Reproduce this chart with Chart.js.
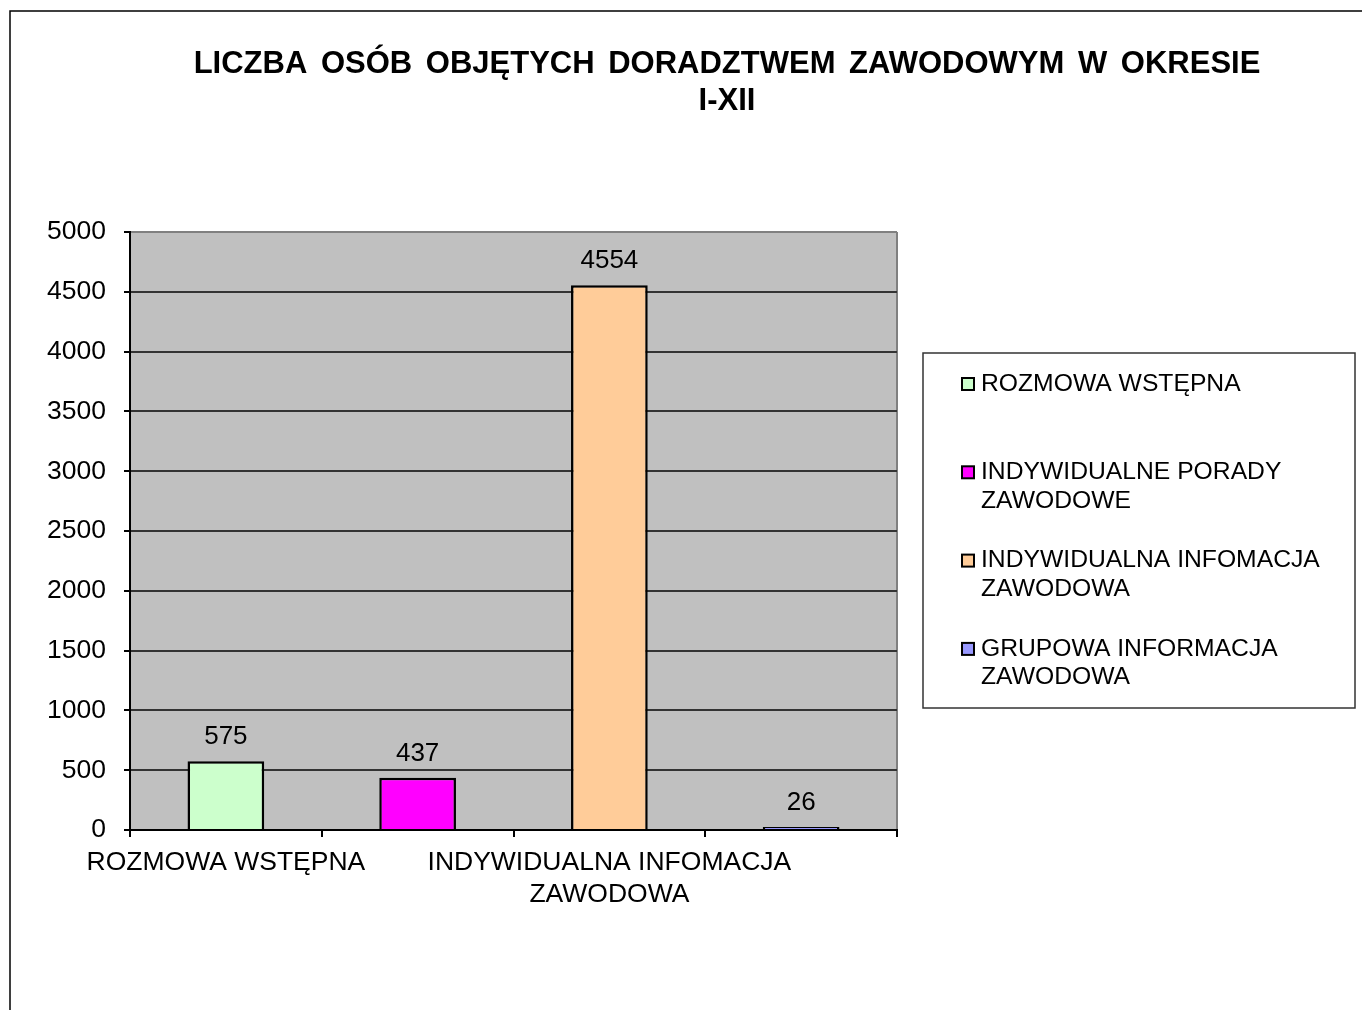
<!DOCTYPE html>
<html>
<head>
<meta charset="utf-8">
<script src="https://cdn.jsdelivr.net/npm/chart.js@4.4.1/dist/chart.umd.min.js"></script>
<style>
  html, body { margin: 0; padding: 0; background: #fff; }
  canvas { display: block; }
</style>
</head>
<body>
<canvas id="chart" width="1362" height="1010"></canvas>
<script>
// data
const titleLines = ['LICZBA OSÓB OBJĘTYCH DORADZTWEM ZAWODOWYM W OKRESIE', 'I-XII'];
const categories = ['ROZMOWA WSTĘPNA', 'INDYWIDUALNE PORADY ZAWODOWE', 'INDYWIDUALNA INFOMACJA ZAWODOWA', 'GRUPOWA INFORMACJA ZAWODOWA'];
const values = [575, 437, 4554, 26];
const barColors = ['#CCFFCC', '#FF00FF', '#FFCC99', '#9999FF'];
// axis labels as excel shows them (every other one skipped)
const xTickLabels = [['ROZMOWA WSTĘPNA'], [''], ['INDYWIDUALNA INFOMACJA', 'ZAWODOWA'], ['']];
const legendLines = [['ROZMOWA WSTĘPNA'], ['INDYWIDUALNE PORADY', 'ZAWODOWE'], ['INDYWIDUALNA INFOMACJA', 'ZAWODOWA'], ['GRUPOWA INFORMACJA', 'ZAWODOWA']];
const yMax = 5000;
const yStep = 500;

const FONT = '"Liberation Sans", Arial, sans-serif';

const decorPlugin = {
  id: 'decor',
  beforeDraw(chart) {
    const ctx = chart.ctx;
    const a = chart.chartArea;
    ctx.save();
    // outer frame (only top/left visible)
    ctx.strokeStyle = '#000';
    ctx.lineWidth = 1.5;
    ctx.beginPath();
    ctx.moveTo(10, 1010);
    ctx.lineTo(10, 11);
    ctx.lineTo(1362, 11);
    ctx.stroke();
    // plot area
    ctx.fillStyle = '#C0C0C0';
    ctx.fillRect(a.left, a.top, a.right - a.left, a.bottom - a.top);
    ctx.strokeStyle = '#808080';
    ctx.lineWidth = 2;
    ctx.beginPath();
    ctx.moveTo(a.right, a.top);
    ctx.lineTo(a.right, a.bottom);
    ctx.stroke();
    // title
    ctx.fillStyle = '#000';
    ctx.font = 'bold 31px ' + FONT;
    ctx.wordSpacing = '5px';
    ctx.textAlign = 'center';
    ctx.textBaseline = 'middle';
    titleLines.forEach((t, i) => ctx.fillText(t, 727, 64 + i * 37));
    ctx.wordSpacing = '0px';
    ctx.restore();
  },
  afterDatasetsDraw(chart) {
    const ctx = chart.ctx;
    const meta = chart.getDatasetMeta(0);
    ctx.save();
    ctx.fillStyle = '#000';
    ctx.font = '26px ' + FONT;
    ctx.textAlign = 'center';
    ctx.textBaseline = 'alphabetic';
    meta.data.forEach((bar, i) => {
      ctx.fillText(String(values[i]), bar.x, bar.y - 17);
    });
    ctx.restore();
  },
  afterDraw(chart) {
    const ctx = chart.ctx;
    ctx.save();
    // legend box
    ctx.strokeStyle = '#333';
    ctx.lineWidth = 1.5;
    ctx.strokeRect(923, 353, 432, 355);
    ctx.font = '24.7px ' + FONT;
    ctx.textAlign = 'left';
    ctx.textBaseline = 'middle';
    legendLines.forEach((lines, i) => {
      const y = 384 + i * 88.3;
      ctx.fillStyle = barColors[i];
      ctx.fillRect(962, y - 6, 12, 12);
      ctx.strokeStyle = '#000';
      ctx.lineWidth = 2;
      ctx.strokeRect(962, y - 6, 12, 12);
      ctx.fillStyle = '#000';
      lines.forEach((l, j) => ctx.fillText(l, 981, y + j * 28.5));
    });
    ctx.restore();
  }
};

new Chart(document.getElementById('chart'), {
  type: 'bar',
  data: {
    labels: categories,
    datasets: [{
      data: values,
      backgroundColor: barColors,
      borderColor: '#000',
      borderWidth: 2.5,
      barPercentage: 0.4,
      categoryPercentage: 1.0
    }]
  },
  options: {
    responsive: false,
    devicePixelRatio: 1,
    animation: false,
    layout: { padding: { left: 0, right: 465, top: 232, bottom: 0 } },
    plugins: {
      legend: { display: false },
      title: { display: false },
      tooltip: { enabled: false }
    },
    scales: {
      y: {
        min: 0,
        max: yMax,
        afterFit(scale) { scale.width = 130; },
        ticks: {
          stepSize: yStep,
          padding: 18,
          color: '#000',
          font: { family: FONT, size: 26.5 },
          callback: (v) => String(v)
        },
        grid: {
          color: (c) => c.tick && c.tick.value === yMax ? '#808080' : '#333',
          lineWidth: 2,
          tickLength: 6,
          tickColor: '#000',
          tickWidth: 2
        },
        border: { color: '#000', width: 2 }
      },
      x: {
        afterFit(scale) { scale.height = 180; },
        ticks: {
          autoSkip: false,
          maxRotation: 0,
          padding: 10,
          color: '#000',
          font: { family: FONT, size: 26.5, lineHeight: 1.19 },
          callback: (v, i) => xTickLabels[i]
        },
        grid: {
          drawOnChartArea: false,
          offset: true,
          tickLength: 7,
          color: '#000',
          lineWidth: 2
        },
        border: { color: '#000', width: 2 }
      }
    }
  },
  plugins: [decorPlugin]
});
</script>
</body>
</html>
